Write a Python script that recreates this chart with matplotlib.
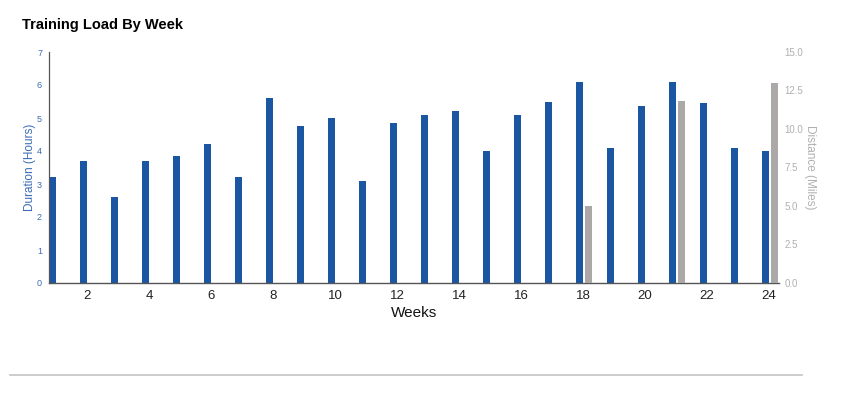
import numpy as np
import matplotlib.pyplot as plt
from matplotlib.lines import Line2D

plt.rcParams['font.family'] = ['Liberation Sans', 'DejaVu Sans']

weeks = np.arange(1, 25)
hours = [3.2, 3.7, 2.6, 3.7, 3.85, 4.2, 3.2, 5.6, 4.75, 5.0, 3.1, 4.85,
         5.1, 5.2, 4.0, 5.1, 5.5, 6.1, 4.1, 5.35, 6.1, 5.45, 4.1, 4.0]
miles = [0, 0, 0, 0, 0, 0, 0, 0, 0, 0, 0, 0,
         0, 0, 0, 0, 0, 5.0, 0, 0, 11.8, 0, 0, 13.0]
week_ticks = [2, 4, 6, 8, 10, 12, 14, 16, 18, 20, 22, 24]

blue = '#1a56a1'
grey = '#aba8a7'
blue_txt = '#3a6cb4'
grey_txt = '#b0b0b0'

fig = plt.figure(figsize=(8.46, 3.93), dpi=100)
ax = fig.add_axes([49/846, 1 - 283/393, 730/846, 231/393])
ax2 = ax.twinx()

w = 0.225
ax.bar(weeks - 0.13, hours, width=w, color=blue, zorder=2)
ax2.bar(weeks + 0.19, miles, width=w, color=grey, zorder=2)

ax.set_xlim(0.77, 24.32)
ax.set_ylim(0, 7)
ax2.set_ylim(0, 15)
ax.set_yticks(range(8))
ax2.set_yticks([0, 2.5, 5, 7.5, 10, 12.5, 15])
ax2.set_yticklabels(['0.0', '2.5', '5.0', '7.5', '10.0', '12.5', '15.0'])
ax.set_xticks(week_ticks)

for a in (ax, ax2):
    a.spines['top'].set_visible(False)
    a.spines['right'].set_visible(False)
    a.patch.set_visible(False)
ax2.spines['left'].set_visible(False)
ax2.spines['bottom'].set_visible(False)
ax.spines['left'].set_color('#555555')
ax.spines['bottom'].set_color('#555555')
ax.spines['left'].set_linewidth(0.9)
ax.spines['bottom'].set_linewidth(1.0)

ax.tick_params(axis='y', length=0, labelsize=6.5, labelcolor=blue_txt, pad=5)
ax.tick_params(axis='x', length=0, labelsize=9.5, labelcolor='#222222', pad=5)
ax2.tick_params(axis='y', length=0, labelsize=7, labelcolor=grey_txt, pad=4)

ax.set_ylabel('Duration (Hours)', color=blue_txt, fontsize=8.5, labelpad=1)
ax2.set_ylabel('Distance (Miles)', color=grey_txt, fontsize=8.5, rotation=270,
               labelpad=9)
ax.set_xlabel('Weeks', fontsize=11, color='#111111', labelpad=3)

fig.text(22/846, 1 - 25/393, 'Training Load By Week', fontsize=10.5,
         fontweight='bold', va='center', ha='left')

fig.add_artist(Line2D([10/846, 802/846], [1 - 375/393, 1 - 375/393],
                      color='#c4c4c4', linewidth=1.2))

fig.savefig('out.png', dpi=100)
